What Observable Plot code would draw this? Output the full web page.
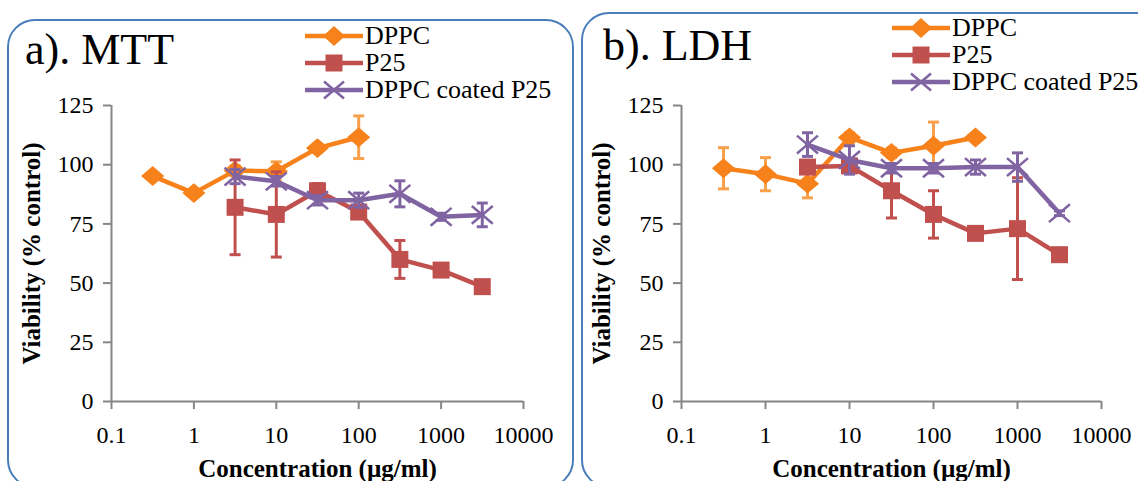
<!DOCTYPE html>
<html>
<head>
<meta charset="utf-8">
<script src="https://cdn.jsdelivr.net/npm/d3@7"></script>
<script src="https://cdn.jsdelivr.net/npm/@observablehq/plot@0.6"></script>
<style>
  body { margin: 0; background: #fff; }
  #wrap { position: relative; width: 1138px; height: 481px; overflow: hidden; background: #fff; font-family: "Liberation Serif", "Times New Roman", serif; }
  .panel { position: absolute; box-sizing: border-box; border: 2px solid #4a7ebb; border-radius: 28px; background: #fff; }
  .title { position: absolute; font-size: 44px; line-height: 44px; color: #000; white-space: nowrap; }
  .legend { position: absolute; }
  .lrow { display: flex; align-items: center; height: 26px; font-size: 26px; line-height: 26px; white-space: nowrap; margin-bottom: 1px; }
  .lrow svg { display: block; margin-right: 2px; }
  .plot { position: absolute; top: 0; }
  .plot svg { overflow: visible; }
  .plot svg text { font-family: "Liberation Serif", "Times New Roman", serif !important; font-size: 24px; font-variant-numeric: normal; }
  .plot svg [aria-label="x-axis label"] text, .plot svg [aria-label="y-axis label"] text { font-weight: bold; font-size: 25px; }
</style>
</head>
<body>
<div id="wrap">
  <div class="panel" style="left:7px;top:19px;width:567px;height:469px;"></div>
  <div class="panel" style="left:581px;top:12px;width:600px;height:476px;"></div>
  <div class="plot" id="plotA" style="left:0px;"></div>
  <div class="plot" id="plotB" style="left:570px;"></div>
  <div class="title" style="left:25px;top:28px;">a). MTT</div>
  <div class="title" style="left:603px;top:24px;">b). LDH</div>
  <div class="legend" id="legA" style="left:305px;top:23px;"></div>
  <div class="legend" id="legB" style="left:892px;top:15px;"></div>
</div>
<script>
// ---------- data ----------
const seriesNames = ["DPPC", "P25", "DPPC coated P25"];
const seriesColors = ["#f7821b", "#c0504d", "#8064a2"];
const errorColors = ["#f8a04c", "#c0504d", "#8064a2"];

const xTicks = [0.1, 1, 10, 100, 1000, 10000];
const yTicks = [0, 25, 50, 75, 100, 125];

// a) MTT
const mttDPPCConc = [0.316, 1, 3.16, 10, 31.6, 100];
const mttDPPC     = [95.2, 88, 97.5, 97.2, 107, 111.6];
const mttDPPCErr  = [1, 1, 2, 4, 1.5, 9];

const mttP25Conc  = [3.16, 10, 31.6, 100, 316, 1000, 3160];
const mttP25      = [82, 79, 89, 80, 60, 55.5, 48.5];
const mttP25Err   = [20, 18, 3, 2, 8, 1, 1.5];

const mttCoatConc = [3.16, 10, 31.6, 100, 316, 1000, 3160];
const mttCoat     = [95, 93, 85, 85, 87.7, 78, 78.8];
const mttCoatErr  = [3, 2, 2, 3, 5.5, 1.5, 5];

// b) LDH
const ldhDPPCConc = [0.316, 1, 3.16, 10, 31.6, 100, 316];
const ldhDPPC     = [98.5, 96, 92, 111.5, 105, 108, 111.5];
const ldhDPPCErr  = [8.7, 7, 6, 2, 2, 10, 1];

const ldhP25Conc  = [3.16, 10, 31.6, 100, 316, 1000, 3160];
const ldhP25      = [99, 99.5, 89, 79, 71, 73, 62];
const ldhP25Err   = [2, 3, 11.5, 10, 2, 21.5, 1];

const ldhCoatConc = [3.16, 10, 31.6, 100, 316, 1000, 3160];
const ldhCoat     = [108.5, 102, 98.5, 98.5, 99, 99, 79.5];
const ldhCoatErr  = [5, 6, 2, 2, 3, 6, 1];

// ---------- symbols ----------
const diamondSym = {draw(ctx, size) { const r = Math.sqrt(size / Math.PI); ctx.moveTo(0, -r * 0.95); ctx.lineTo(r * 1.1, 0); ctx.lineTo(0, r * 0.95); ctx.lineTo(-r * 1.1, 0); ctx.closePath(); }};
const squareSym  = {draw(ctx, size) { const r = Math.sqrt(size / Math.PI); ctx.rect(-r, -r, 2 * r, 2 * r); }};
const crossSym   = {draw(ctx, size) { const r = Math.sqrt(size / Math.PI); ctx.moveTo(-r, -r * 0.85); ctx.lineTo(r, r * 0.85); ctx.moveTo(-r, r * 0.85); ctx.lineTo(r, -r * 0.85); }};
const capSym     = {draw(ctx, size) { const r = Math.sqrt(size / Math.PI); ctx.moveTo(-r, 0); ctx.lineTo(r, 0); }};

function rows(conc, vals, errs) { return conc.map((c, i) => ({c, v: vals[i], e: errs[i]})); }

function seriesMarks(data, k) {
  const col = seriesColors[k], ecol = errorColors[k];
  const marks = [
    Plot.ruleX(data, {x: "c", y1: d => d.v - d.e, y2: d => d.v + d.e, stroke: ecol, strokeWidth: 3}),
    Plot.dot(data, {x: "c", y: d => d.v + d.e, symbol: capSym, r: 5.5, stroke: ecol, strokeWidth: 3, fill: "none"}),
    Plot.dot(data, {x: "c", y: d => d.v - d.e, symbol: capSym, r: 5.5, stroke: ecol, strokeWidth: 3, fill: "none"}),
    Plot.line(data, {x: "c", y: "v", stroke: col, strokeWidth: 4.5, strokeLinejoin: "round"})
  ];
  if (k === 0) marks.push(Plot.dot(data, {x: "c", y: "v", symbol: diamondSym, r: 10.5, fill: col, stroke: "none"}));
  if (k === 1) marks.push(Plot.dot(data, {x: "c", y: "v", symbol: squareSym, r: 8.5, fill: col, stroke: "none"}));
  if (k === 2) marks.push(Plot.dot(data, {x: "c", y: "v", symbol: crossSym, r: 10.5, fill: "none", stroke: col, strokeWidth: 2.5}));
  return marks;
}

function makePlot(seriesData, marginRight) {
  return Plot.plot({
    width: 560, height: 460,
    marginLeft: 111, marginRight, marginTop: 105, marginBottom: 59,
    style: {fontFamily: "'Liberation Serif', 'Times New Roman', serif", fontSize: "24px", background: "transparent", color: "#000", overflow: "visible"},
    x: {type: "log", domain: [0.1, 10000]},
    y: {domain: [0, 125]},
    marks: [
      Plot.axisX({ticks: xTicks, tickFormat: d => String(d), tickSize: 8, tickPadding: 16, stroke: "#868686", strokeWidth: 2, fill: "#000",
        label: "Concentration (µg/ml)", labelAnchor: "center", labelOffset: 75, labelArrow: "none"}),
      Plot.axisY({ticks: yTicks, tickSize: 8, tickPadding: 10, stroke: "#868686", strokeWidth: 2, fill: "#000",
        label: "Viability (% control)", labelAnchor: "center", labelOffset: 89, labelArrow: "none"}),
      Plot.ruleX([0.1], {stroke: "#868686", strokeWidth: 2}),
      Plot.ruleY([0], {stroke: "#868686", strokeWidth: 2}),
      ...seriesData.flatMap((d, k) => seriesMarks(d, k))
    ]
  });
}

document.getElementById("plotA").append(makePlot([
  rows(mttDPPCConc, mttDPPC, mttDPPCErr),
  rows(mttP25Conc, mttP25, mttP25Err),
  rows(mttCoatConc, mttCoat, mttCoatErr)
], 37));

document.getElementById("plotB").append(makePlot([
  rows(ldhDPPCConc, ldhDPPC, ldhDPPCErr),
  rows(ldhP25Conc, ldhP25, ldhP25Err),
  rows(ldhCoatConc, ldhCoat, ldhCoatErr)
], 29));

// ---------- legends ----------
function swatch(k) {
  const c = seriesColors[k];
  let m = "";
  if (k === 0) m = `<path d="M29,3 L40,13 L29,23 L18,13 Z" fill="${c}"/>`;
  if (k === 1) m = `<rect x="20.5" y="4.5" width="17" height="17" fill="${c}"/>`;
  if (k === 2) m = `<path d="M19,4.5 L39,21.5 M19,21.5 L39,4.5" stroke="${c}" stroke-width="2.5" fill="none"/>`;
  return `<svg width="58" height="26"><line x1="0" y1="13" x2="58" y2="13" stroke="${c}" stroke-width="4.5"/>${m}</svg>`;
}
for (const id of ["legA", "legB"]) {
  const el = document.getElementById(id);
  el.innerHTML = seriesNames.map((n, k) => `<div class="lrow">${swatch(k)}<span>${n}</span></div>`).join("");
}
</script>
</body>
</html>
